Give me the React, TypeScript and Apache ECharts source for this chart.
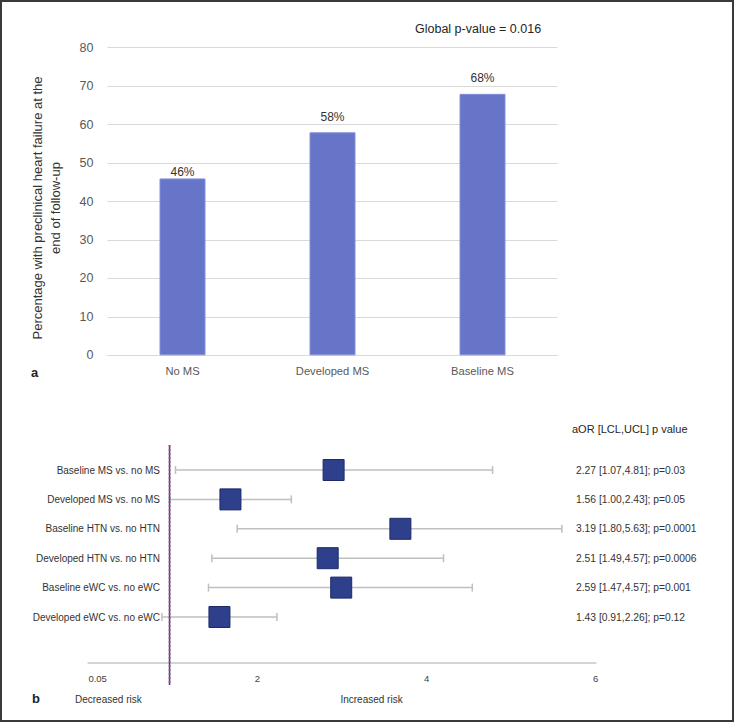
import React, { useEffect, useRef } from "react";
import * as echarts from "echarts";

// ---- Panel a: bar chart data ----
const barCategories = ["No MS", "Developed MS", "Baseline MS"];
const barValues = [46, 58, 68];
const barYMin = 0;
const barYMax = 80;
const barYStep = 10;
const barTitleLines = ["Percentage with preclinical heart failure at the", "end of follow-up"];
const globalPText = "Global p-value = 0.016";

// ---- Panel b: forest plot data (positions) ----
const forestLabels = [
  "Baseline MS vs. no MS",
  "Developed MS vs. no MS",
  "Baseline HTN vs. no HTN",
  "Developed HTN vs. no HTN",
  "Baseline eWC vs. no eWC",
  "Developed eWC vs. no eWC",
];
const forestLow = [1.03, 0.96, 1.76, 1.46, 1.42, 0.87];
const forestMark = [2.9, 1.68, 3.69, 2.83, 2.99, 1.55];
const forestHigh = [4.78, 2.4, 5.6, 4.2, 4.54, 2.23];
const forestTexts = [
  "2.27 [1.07,4.81]; p=0.03",
  "1.56 [1.00,2.43]; p=0.05",
  "3.19 [1.80,5.63]; p=0.0001",
  "2.51 [1.49,4.57]; p=0.0006",
  "2.59 [1.47,4.57]; p=0.001",
  "1.43 [0.91,2.26]; p=0.12",
];
const forestHeader = "aOR [LCL,UCL] p value";
const nullValue = 0.96;
const forestXMin = 0;
const forestXMax = 6;
const forestXStep = 2;
const forestTickLabels = ["0.05", "2", "4", "6"];
const decreasedText = "Decreased risk";
const increasedText = "Increased risk";

const FONT = "'Liberation Sans', Arial, sans-serif";
const BAR_LABEL_GAPS = [0.5, 9, 9.5];

export default function App() {
  const ref = useRef<HTMLDivElement>(null);

  useEffect(() => {
    if (!ref.current) return;
    const chart = echarts.init(ref.current, null, { renderer: "svg" });

    const forestData = forestLabels.map((_, i) => [i, forestLow[i], forestMark[i], forestHigh[i]]);
    const barData = barValues.map((v, i) => ({ value: v, label: { distance: BAR_LABEL_GAPS[i] } }));

    const option: any = {
      animation: false,
      backgroundColor: "#ffffff",
      textStyle: { fontFamily: FONT },
      grid: [
        { left: 107.5, top: 47.7, width: 450, height: 307.6 },
        { left: 88.4, top: 470, width: 507.3, height: 147 },
      ],
      xAxis: [
        {
          gridIndex: 0,
          type: "category",
          data: barCategories,
          axisTick: { show: false },
          axisLine: { lineStyle: { color: "#d9d9d9", width: 1 } },
          axisLabel: { margin: 10, fontSize: 11.2, color: "#595959", fontFamily: FONT },
        },
        {
          gridIndex: 1,
          type: "value",
          min: forestXMin,
          max: forestXMax,
          interval: forestXStep,
          offset: 46,
          axisTick: { show: false },
          splitLine: { show: false },
          axisLine: { show: true, lineStyle: { color: "#d4d4d4", width: 2 } },
          axisLabel: {
            margin: 10,
            fontSize: 9.5,
            color: "#404040",
            fontFamily: FONT,
            alignMinLabel: "left",
            formatter: (v: number) => forestTickLabels[Math.round((v - forestXMin) / forestXStep)] ?? String(v),
          },
        },
      ],
      yAxis: [
        {
          gridIndex: 0,
          type: "value",
          min: barYMin,
          max: barYMax,
          interval: barYStep,
          axisLine: { show: false },
          axisTick: { show: false },
          splitLine: { lineStyle: { color: "#d9d9d9", width: 1 } },
          axisLabel: { margin: 14, fontSize: 12.5, color: "#595959", fontFamily: FONT },
        },
        {
          gridIndex: 1,
          type: "category",
          data: forestLabels,
          inverse: true,
          boundaryGap: false,
          position: "left",
          offset: -81.6,
          axisLine: { show: false },
          axisTick: { show: false },
          splitLine: { show: false },
          axisLabel: { margin: 10, fontSize: 10, color: "#333333", fontFamily: FONT },
        },
        {
          gridIndex: 1,
          type: "category",
          data: forestTexts,
          inverse: true,
          boundaryGap: false,
          position: "right",
          offset: -29.7,
          axisLine: { show: false },
          axisTick: { show: false },
          splitLine: { show: false },
          axisLabel: { margin: 10, fontSize: 10.3, color: "#333333", fontFamily: FONT },
        },
      ],
      series: [
        {
          type: "bar",
          xAxisIndex: 0,
          yAxisIndex: 0,
          data: barData,
          barWidth: 46,
          itemStyle: { color: "#6675c8", borderColor: "#8590d8", borderWidth: 1 },
          label: {
            show: true,
            position: "top",
            distance: 3,
            formatter: "{c}%",
            fontSize: 12,
            color: "#333333",
            fontFamily: FONT,
          },
        },
        {
          type: "custom",
          xAxisIndex: 1,
          yAxisIndex: 1,
          clip: false,
          data: forestData,
          encode: { x: [1, 2, 3], y: 0 },
          renderItem: (params: any, api: any) => {
            const i = api.value(0);
            const lo = api.coord([api.value(1), i]);
            const est = api.coord([api.value(2), i]);
            const hi = api.coord([api.value(3), i]);
            const wStyle = { stroke: "#bfbfbf", lineWidth: 1.5 };
            const cap = 4;
            const half = 10.5;
            return {
              type: "group",
              children: [
                { type: "line", shape: { x1: lo[0], y1: lo[1], x2: hi[0], y2: hi[1] }, style: wStyle },
                { type: "line", shape: { x1: lo[0], y1: lo[1] - cap, x2: lo[0], y2: lo[1] + cap }, style: wStyle },
                { type: "line", shape: { x1: hi[0], y1: hi[1] - cap, x2: hi[0], y2: hi[1] + cap }, style: wStyle },
                {
                  type: "rect",
                  shape: { x: est[0] - half, y: est[1] - half, width: half * 2, height: half * 2 },
                  style: { fill: "#2e3f8c", stroke: "#1e2a66", lineWidth: 1 },
                },
              ],
            };
          },
        },
        {
          type: "custom",
          xAxisIndex: 1,
          yAxisIndex: 1,
          clip: false,
          data: [[nullValue, 0]],
          encode: { x: 0, y: 1 },
          renderItem: (params: any, api: any) => {
            const p = api.coord([api.value(0), 0]);
            const cs = params.coordSys;
            const y1 = cs.y - 25;
            const y2 = cs.y + cs.height + 68;
            return {
              type: "group",
              children: [
                { type: "line", shape: { x1: p[0], y1, x2: p[0], y2 }, style: { stroke: "#34499a", lineWidth: 1.6 } },
                {
                  type: "line",
                  shape: { x1: p[0], y1, x2: p[0], y2 },
                  style: { stroke: "#c8393b", lineWidth: 1.6, lineDash: [2, 2] },
                },
              ],
            };
          },
        },
      ],
      graphic: [
        {
          type: "rect",
          shape: { x: 1, y: 1, width: 732, height: 720 },
          style: { fill: "none", stroke: "#3a3a3a", lineWidth: 2 },
          silent: true,
        },
        {
          type: "text",
          x: 415,
          y: 29,
          style: { text: globalPText, fontSize: 12.5, fill: "#262626", fontFamily: FONT, verticalAlign: "middle", align: "left" },
        },
        {
          type: "text",
          x: 46.3,
          y: 208,
          rotation: Math.PI / 2,
          style: {
            text: barTitleLines.join("\n"),
            fontSize: 13,
            lineHeight: 17.5,
            fill: "#333333",
            fontFamily: FONT,
            align: "center",
            verticalAlign: "middle",
          },
        },
        {
          type: "text",
          x: 31,
          y: 372,
          style: { text: "a", fontSize: 13, fontWeight: "bold", fill: "#222", fontFamily: FONT, verticalAlign: "middle" },
        },
        {
          type: "text",
          x: 32,
          y: 698,
          style: { text: "b", fontSize: 13, fontWeight: "bold", fill: "#222", fontFamily: FONT, verticalAlign: "middle" },
        },
        {
          type: "text",
          x: 572,
          y: 429,
          style: { text: forestHeader, fontSize: 11, fill: "#262626", fontFamily: FONT, verticalAlign: "middle" },
        },
        {
          type: "text",
          x: 75,
          y: 699,
          style: { text: decreasedText, fontSize: 10, fill: "#333", fontFamily: FONT, verticalAlign: "middle" },
        },
        {
          type: "text",
          x: 340.4,
          y: 699,
          style: { text: increasedText, fontSize: 10, fill: "#333", fontFamily: FONT, verticalAlign: "middle" },
        },
      ],
    };

    chart.setOption(option);
    return () => chart.dispose();
  }, []);

  return (
    <div
      ref={ref}
      style={{ position: "fixed", left: 0, top: 0, width: 734, height: 723, background: "#fff" }}
    />
  );
}
